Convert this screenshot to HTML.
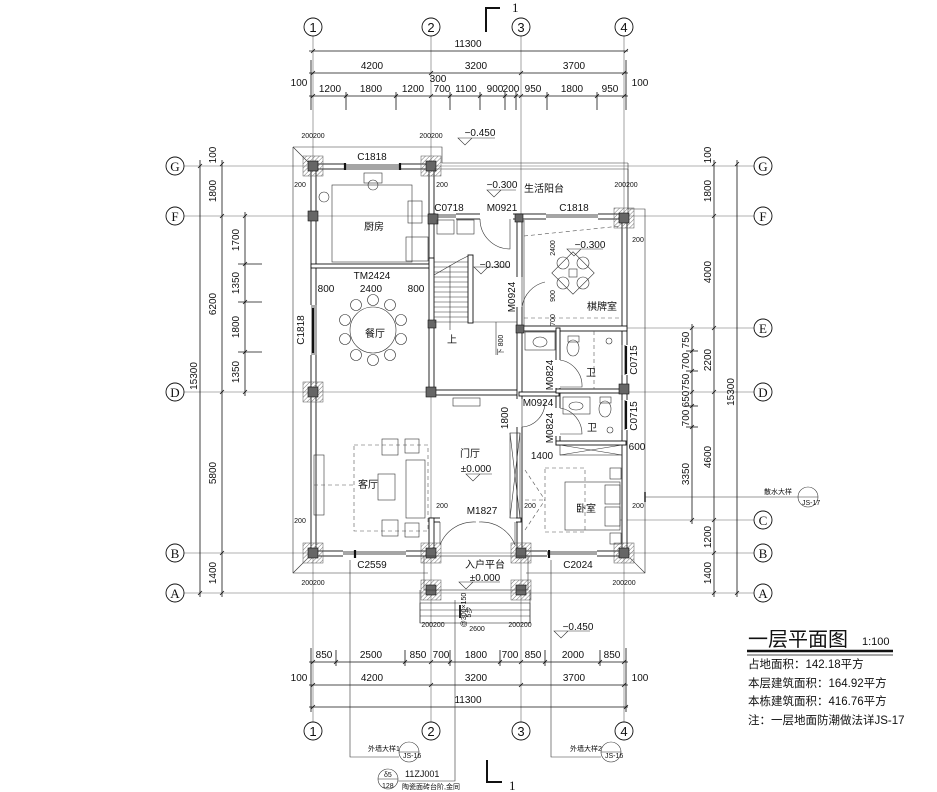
<!DOCTYPE html>
<html><head><meta charset="utf-8"><style>
html,body{margin:0;padding:0;background:#fff;}
svg{display:block;font-family:"Liberation Sans","Noto Sans CJK SC",sans-serif;}
.t{font-size:10px;fill:#111}
.s{font-size:7px;fill:#111}
.c{font-size:13px;fill:#111}
.w{fill:#fff;stroke:#111;stroke-width:.9}
.col{fill:#666;stroke:#111;stroke-width:.6}
.g{stroke:#666;stroke-width:.6;fill:none}
.d{stroke:#111;stroke-width:.8;fill:none}
.f{stroke:#333;stroke-width:.6;fill:none}
.dash{stroke:#555;stroke-width:.6;fill:none;stroke-dasharray:4 3}
</style></head><body>
<svg width="937" height="792" viewBox="0 0 937 792" xmlns="http://www.w3.org/2000/svg">
<defs>
<pattern id="h" width="3" height="3" patternUnits="userSpaceOnUse" patternTransform="rotate(45)"><line x1="0" y1="0" x2="0" y2="3" stroke="#777" stroke-width="1"/></pattern>
</defs>

<!-- grid lines -->
<g class="g">
<line x1="313" y1="36" x2="313" y2="722"/><line x1="431" y1="36" x2="431" y2="722"/>
<line x1="521" y1="36" x2="521" y2="722"/><line x1="624" y1="36" x2="624" y2="722"/>
<line x1="184" y1="166" x2="754" y2="166"/><line x1="184" y1="216" x2="754" y2="216"/>
<line x1="520" y1="328" x2="754" y2="328"/><line x1="184" y1="392" x2="754" y2="392"/>
<line x1="620" y1="520" x2="754" y2="520"/><line x1="184" y1="553" x2="754" y2="553"/>
<line x1="184" y1="593" x2="754" y2="593"/>
</g>

<!-- axis circles -->
<g fill="#fff" stroke="#111" stroke-width="0.9">
<circle cx="313" cy="27" r="9"/><circle cx="431" cy="27" r="9"/><circle cx="521" cy="27" r="9"/><circle cx="624" cy="27" r="9"/>
<circle cx="313" cy="731" r="9"/><circle cx="431" cy="731" r="9"/><circle cx="521" cy="731" r="9"/><circle cx="624" cy="731" r="9"/>
<circle cx="175" cy="166" r="9"/><circle cx="175" cy="216" r="9"/><circle cx="175" cy="392" r="9"/><circle cx="175" cy="553" r="9"/><circle cx="175" cy="593" r="9"/>
<circle cx="763" cy="166" r="9"/><circle cx="763" cy="216" r="9"/><circle cx="763" cy="328" r="9"/><circle cx="763" cy="392" r="9"/><circle cx="763" cy="520" r="9"/><circle cx="763" cy="553" r="9"/><circle cx="763" cy="593" r="9"/>
</g>
<g class="c" text-anchor="middle">
<text x="313" y="32">1</text><text x="431" y="32">2</text><text x="521" y="32">3</text><text x="624" y="32">4</text>
<text x="313" y="736">1</text><text x="431" y="736">2</text><text x="521" y="736">3</text><text x="624" y="736">4</text>
<text x="175" y="171" font-family="Liberation Serif">G</text><text x="175" y="221" font-family="Liberation Serif">F</text><text x="175" y="397" font-family="Liberation Serif">D</text><text x="175" y="558" font-family="Liberation Serif">B</text><text x="175" y="598" font-family="Liberation Serif">A</text>
<text x="763" y="171" font-family="Liberation Serif">G</text><text x="763" y="221" font-family="Liberation Serif">F</text><text x="763" y="333" font-family="Liberation Serif">E</text><text x="763" y="397" font-family="Liberation Serif">D</text><text x="763" y="525" font-family="Liberation Serif">C</text><text x="763" y="558" font-family="Liberation Serif">B</text><text x="763" y="598" font-family="Liberation Serif">A</text>
</g>

<!-- section marks -->
<g stroke="#111" stroke-width="2" fill="none">
<polyline points="486,32 486,8 500,8"/><polyline points="487,760 487,782 502,782"/>
</g>
<text x="512" y="12" class="c" font-family="Liberation Serif">1</text>
<text x="509" y="790" class="c" font-family="Liberation Serif">1</text>

<!-- top dims -->
<g class="d">
<line x1="309" y1="51" x2="628" y2="51"/><line x1="309" y1="73" x2="628" y2="73"/><line x1="309" y1="96" x2="628" y2="96"/>
<line x1="311" y1="60" x2="311" y2="110"/><line x1="626" y1="60" x2="626" y2="110"/>
<line x1="346" y1="92" x2="346" y2="110"/><line x1="396" y1="92" x2="396" y2="110"/><line x1="450" y1="92" x2="450" y2="110"/><line x1="480" y1="92" x2="480" y2="110"/><line x1="505" y1="92" x2="505" y2="110"/><line x1="516" y1="92" x2="516" y2="110"/><line x1="547" y1="92" x2="547" y2="110"/><line x1="597" y1="92" x2="597" y2="110"/>
</g>
<g class="d" stroke-width="1.4">
<path d="M311,53l4,-4M624,53l4,-4M311,75l4,-4M429,75l4,-4M519,75l4,-4M622,75l4,-4M311,98l4,-4M344,98l4,-4M394,98l4,-4M429,98l4,-4M448,98l4,-4M478,98l4,-4M503,98l4,-4M514,98l4,-4M519,98l4,-4M545,98l4,-4M595,98l4,-4M622,98l4,-4"/>
</g>
<g class="t" text-anchor="middle">
<text x="468" y="47">11300</text>
<text x="372" y="69">4200</text><text x="476" y="69">3200</text><text x="574" y="69">3700</text>
<text x="330" y="92">1200</text><text x="371" y="92">1800</text><text x="413" y="92">1200</text>
<text x="438" y="82">300</text>
<text x="442" y="92">700</text><text x="466" y="92">1100</text><text x="495" y="92">900</text><text x="511" y="92">200</text><text x="533" y="92">950</text><text x="572" y="92">1800</text><text x="610" y="92">950</text>
<text x="299" y="86">100</text><text x="640" y="86">100</text>
</g>

<!-- bottom dims -->
<g class="d">
<line x1="309" y1="662" x2="628" y2="662"/><line x1="309" y1="685" x2="628" y2="685"/><line x1="309" y1="707" x2="628" y2="707"/>
<line x1="311" y1="648" x2="311" y2="712"/><line x1="626" y1="648" x2="626" y2="712"/>
<line x1="336" y1="650" x2="336" y2="666"/><line x1="405" y1="650" x2="405" y2="666"/><line x1="450" y1="650" x2="450" y2="666"/><line x1="500" y1="650" x2="500" y2="666"/><line x1="545" y1="650" x2="545" y2="666"/><line x1="600" y1="650" x2="600" y2="666"/>
</g>
<g class="d" stroke-width="1.4">
<path d="M311,664l4,-4M334,664l4,-4M403,664l4,-4M429,664l4,-4M448,664l4,-4M498,664l4,-4M519,664l4,-4M543,664l4,-4M598,664l4,-4M622,664l4,-4M311,687l4,-4M429,687l4,-4M519,687l4,-4M622,687l4,-4M311,709l4,-4M624,709l4,-4"/>
</g>
<g class="t" text-anchor="middle">
<text x="324" y="658">850</text><text x="371" y="658">2500</text><text x="418" y="658">850</text><text x="441" y="658">700</text><text x="476" y="658">1800</text><text x="510" y="658">700</text><text x="533" y="658">850</text><text x="573" y="658">2000</text><text x="612" y="658">850</text>
<text x="372" y="681">4200</text><text x="476" y="681">3200</text><text x="574" y="681">3700</text>
<text x="468" y="703">11300</text>
<text x="299" y="681">100</text><text x="640" y="681">100</text>
</g>

<!-- left dims -->
<g class="d">
<line x1="200" y1="160" x2="200" y2="597"/><line x1="222" y1="160" x2="222" y2="597"/><line x1="245" y1="212" x2="245" y2="396"/>
<line x1="238" y1="264" x2="262" y2="264"/><line x1="238" y1="302" x2="262" y2="302"/><line x1="238" y1="352" x2="262" y2="352"/>
</g>
<g class="d" stroke-width="1.4">
<path d="M198,168l4,-4M198,595l4,-4M220,166l4,-4M220,218l4,-4M220,394l4,-4M220,555l4,-4M220,595l4,-4M243,218l4,-4M243,266l4,-4M243,304l4,-4M243,354l4,-4M243,394l4,-4"/>
</g>
<g class="t" text-anchor="middle">
<text transform="translate(216,155) rotate(-90)">100</text>
<text transform="translate(216,191) rotate(-90)">1800</text>
<text transform="translate(216,304) rotate(-90)">6200</text>
<text transform="translate(216,473) rotate(-90)">5800</text>
<text transform="translate(216,573) rotate(-90)">1400</text>
<text transform="translate(197,376) rotate(-90)">15300</text>
<text transform="translate(239,240) rotate(-90)">1700</text>
<text transform="translate(239,283) rotate(-90)">1350</text>
<text transform="translate(239,327) rotate(-90)">1800</text>
<text transform="translate(239,372) rotate(-90)">1350</text>
</g>

<!-- right dims -->
<g class="d">
<line x1="737" y1="160" x2="737" y2="597"/><line x1="714" y1="160" x2="714" y2="597"/><line x1="692" y1="324" x2="692" y2="524"/>
<line x1="686" y1="351" x2="698" y2="351"/><line x1="686" y1="371" x2="698" y2="371"/><line x1="686" y1="406" x2="698" y2="406"/><line x1="686" y1="427" x2="698" y2="427"/>
</g>
<g class="d" stroke-width="1.4">
<path d="M735,166l4,-4M735,595l4,-4M712,166l4,-4M712,218l4,-4M712,330l4,-4M712,394l4,-4M712,522l4,-4M712,555l4,-4M712,595l4,-4M690,330l4,-4M690,353l4,-4M690,373l4,-4M690,394l4,-4M690,408l4,-4M690,429l4,-4M690,522l4,-4"/>
</g>
<g class="t" text-anchor="middle">
<text transform="translate(711,155) rotate(-90)">100</text>
<text transform="translate(711,191) rotate(-90)">1800</text>
<text transform="translate(711,272) rotate(-90)">4000</text>
<text transform="translate(711,360) rotate(-90)">2200</text>
<text transform="translate(711,457) rotate(-90)">4600</text>
<text transform="translate(711,537) rotate(-90)">1200</text>
<text transform="translate(711,573) rotate(-90)">1400</text>
<text transform="translate(734,392) rotate(-90)">15300</text>
<text transform="translate(689,340) rotate(-90)">750</text>
<text transform="translate(689,361) rotate(-90)">700</text>
<text transform="translate(689,382) rotate(-90)">750</text>
<text transform="translate(689,399) rotate(-90)">650</text>
<text transform="translate(689,418) rotate(-90)">700</text>
<text transform="translate(689,474) rotate(-90)">3350</text>
</g>

<!-- plinth outline -->
<g class="f" stroke-width="0.9">
<polyline points="293,147 442,147 442,163"/>
<line x1="442" y1="163" x2="628" y2="163"/>
<line x1="628" y1="163" x2="628" y2="209"/>
<polyline points="628,209 645,209 645,573 526,573"/>
<polyline points="293,147 293,573 428,573"/>
<line x1="293" y1="147" x2="308" y2="162"/><line x1="293" y1="573" x2="308" y2="558"/><line x1="645" y1="573" x2="630" y2="558"/>
</g>

<!-- walls -->
<g class="w">
<rect x="311" y="164" width="5" height="392"/>
<rect x="311" y="164" width="123" height="5"/>
<rect x="429" y="164" width="5" height="104"/>
<rect x="622" y="214" width="5" height="342"/>
<rect x="311" y="551" width="122" height="5"/>
<rect x="519" y="551" width="108" height="5"/>
<rect x="429" y="214" width="198" height="5"/>
<rect x="311" y="264" width="122" height="4"/>
<rect x="429" y="258" width="5" height="137"/>
<rect x="429" y="390" width="92" height="5"/>
<rect x="517" y="214" width="5" height="342"/>
<rect x="519" y="326" width="108" height="5"/>
<rect x="556" y="328" width="4" height="117"/>
<rect x="519" y="392" width="40" height="4"/>
<rect x="556" y="389" width="70" height="4"/>
<rect x="556" y="441" width="70" height="4"/>
<rect x="429" y="518" width="92" height="4"/>
<rect x="429" y="518" width="5" height="38"/>
<rect x="468" y="255" width="5" height="68"/>
</g>
<!-- window/door openings (white gaps with thin lines) -->
<g fill="#fff" stroke="none">
<rect x="345" y="163" width="55" height="7"/>
<rect x="310" y="305" width="7" height="50"/>
<rect x="343" y="550" width="63" height="7"/>
<rect x="547" y="550" width="50" height="7"/>
<rect x="546" y="213" width="52" height="7"/>
<rect x="436" y="213" width="20" height="7"/>
<rect x="480" y="213" width="33" height="7"/>
<rect x="516" y="277" width="7" height="30"/>
<rect x="516" y="399" width="7" height="28"/>
<rect x="555" y="360" width="6" height="28"/>
<rect x="555" y="408" width="6" height="28"/>
<rect x="621" y="345" width="7" height="30"/>
<rect x="621" y="400" width="7" height="30"/>
<rect x="440" y="517" width="76" height="6"/>
</g>
<g stroke="#111" stroke-width="0.7" fill="none">
<path d="M345,165H400M345,167H400M345,169H400"/>
<path d="M312,305V355M314,305V355M316,305V355"/>
<path d="M343,552H406M343,554H406"/>
<path d="M547,552H597M547,554H597"/>
<path d="M546,215H598M546,217H598"/>
<path d="M436,215H456M436,217H456"/>
<path d="M622,345V375M625,345V375M622,400V430M625,400V430"/>
</g>
<g stroke="#111" stroke-width="2.2"><line x1="400" y1="163" x2="400" y2="170"/><line x1="345" y1="163" x2="345" y2="170"/><line x1="355" y1="550" x2="355" y2="558"/><line x1="549" y1="550" x2="549" y2="558"/><line x1="626" y1="346" x2="626" y2="374"/><line x1="626" y1="401" x2="626" y2="429"/><line x1="313" y1="308" x2="313" y2="353"/></g>
<!-- door swings -->
<g class="f" stroke-width="0.8">
<path d="M480,219 A30,30 0 0 0 510,249 L510,219"/>
<path d="M522,277 V307 A30,30 0 0 1 545,282"/>
<path d="M522,399 L522,427 A25,25 0 0 0 545,401"/>
<path d="M560,360 A26,26 0 0 1 582,387 L560,387"/>
<path d="M560,408 A26,26 0 0 1 582,434 L560,434"/>
<path d="M440,522 V545 A36,36 0 0 1 476,522"/>
<path d="M515,522 V545 A36,36 0 0 0 479,522"/>
</g>

<!-- columns -->
<g>
<rect x="303" y="156" width="20" height="20" fill="url(#h)" stroke="#555" stroke-width=".5"/>
<rect x="421" y="156" width="20" height="20" fill="url(#h)" stroke="#555" stroke-width=".5"/>
<rect x="614" y="208" width="20" height="20" fill="url(#h)" stroke="#555" stroke-width=".5"/>
<rect x="303" y="382" width="20" height="20" fill="url(#h)" stroke="#555" stroke-width=".5"/>
<rect x="303" y="543" width="20" height="20" fill="url(#h)" stroke="#555" stroke-width=".5"/>
<rect x="421" y="543" width="20" height="20" fill="url(#h)" stroke="#555" stroke-width=".5"/>
<rect x="511" y="543" width="20" height="20" fill="url(#h)" stroke="#555" stroke-width=".5"/>
<rect x="614" y="543" width="20" height="20" fill="url(#h)" stroke="#555" stroke-width=".5"/>
<rect x="421" y="580" width="20" height="20" fill="url(#h)" stroke="#555" stroke-width=".5"/>
<rect x="511" y="580" width="20" height="20" fill="url(#h)" stroke="#555" stroke-width=".5"/>
</g>
<g class="col">
<rect x="308" y="161" width="10" height="10"/><rect x="426" y="161" width="10" height="10"/>
<rect x="308" y="211" width="10" height="10"/><rect x="428" y="214" width="10" height="10"/><rect x="515" y="214" width="8" height="8"/><rect x="619" y="213" width="10" height="10"/>
<rect x="428" y="320" width="8" height="8"/><rect x="516" y="325" width="8" height="8"/><rect x="619" y="384" width="10" height="10"/>
<rect x="308" y="387" width="10" height="10"/><rect x="426" y="387" width="10" height="10"/>
<rect x="308" y="548" width="10" height="10"/><rect x="426" y="548" width="10" height="10"/><rect x="516" y="548" width="10" height="10"/><rect x="619" y="548" width="10" height="10"/>
<rect x="426" y="585" width="10" height="10"/><rect x="516" y="585" width="10" height="10"/>
<rect x="308" y="302" width="0" height="0"/>
</g>

<!-- entry platform & steps -->
<g class="f" stroke-width="0.8">
<rect x="424" y="556" width="104" height="34"/>
<rect x="420" y="603" width="110" height="20"/>
<line x1="420" y1="610" x2="530" y2="610"/><line x1="420" y1="616" x2="530" y2="616"/>
<line x1="420" y1="590" x2="420" y2="623"/><line x1="530" y1="590" x2="530" y2="623"/>
</g>
<line x1="460" y1="605" x2="460" y2="618" stroke="#111" stroke-width="1.8"/>

<!-- balcony top thin line and dashed -->
<line x1="434" y1="169" x2="628" y2="169" class="f"/>
<line x1="628" y1="169" x2="628" y2="214" class="f"/>

<!-- stair -->
<g class="f" stroke-width="0.6">
<path d="M434,262H468M434,267H468M434,272H468M434,277H468M434,282H468M434,287H468M434,292H468M434,297H468M434,302H468M434,307H468M434,312H468M434,317H468M434,322H468"/>
<polyline points="434,275 460,260 468,256"/>
<line x1="450" y1="330" x2="450" y2="265"/>
<line x1="473" y1="322" x2="517" y2="322"/>
<line x1="496" y1="322" x2="496" y2="355"/>
</g>

<!-- kitchen fixtures -->
<g class="f">
<rect x="332" y="185" width="80" height="77"/>
<rect x="408" y="201" width="14" height="22"/><rect x="406" y="237" width="22" height="24"/>
<circle cx="373" cy="185" r="5"/><rect x="364" y="173" width="18" height="10"/>
<circle cx="324" cy="197" r="5"/>
<rect x="437" y="220" width="17" height="14"/><rect x="457" y="220" width="17" height="14"/>
</g>
<!-- dining -->
<g class="f" stroke-width="0.8">
<circle cx="373" cy="330" r="23"/>
<g fill="#fff">
<circle cx="373" cy="300" r="5.5"/><circle cx="390" cy="305" r="5.5"/><circle cx="401" cy="320" r="5.5"/><circle cx="401" cy="339" r="5.5"/><circle cx="390" cy="355" r="5.5"/><circle cx="373" cy="360" r="5.5"/><circle cx="356" cy="355" r="5.5"/><circle cx="345" cy="339" r="5.5"/><circle cx="345" cy="320" r="5.5"/><circle cx="356" cy="305" r="5.5"/>
</g>
</g>
<!-- living -->
<g class="f" stroke-width="0.7">
<rect x="354" y="445" width="74" height="86" class="dash"/>
<rect x="382" y="439" width="16" height="16"/><rect x="382" y="520" width="16" height="16"/>
<rect x="405" y="439" width="14" height="14"/><rect x="405" y="523" width="14" height="14"/>
<rect x="406" y="460" width="19" height="58"/>
<rect x="378" y="474" width="17" height="26"/>
<rect x="314" y="455" width="10" height="60"/>
<line x1="314" y1="485" x2="354" y2="485" class="dash"/>
<rect x="453" y="398" width="27" height="8"/>
<rect x="510" y="433" width="10" height="85"/>
<line x1="510" y1="433" x2="520" y2="518"/><line x1="520" y1="433" x2="510" y2="518"/>
</g>
<!-- bath fixtures -->
<g class="f">
<rect x="525" y="332" width="30" height="18"/><ellipse cx="540" cy="342" rx="7" ry="5"/>
<rect x="568" y="336" width="11" height="6"/><ellipse cx="573" cy="348" rx="6" ry="8"/>
<rect x="563" y="397" width="27" height="17"/><ellipse cx="576" cy="406" rx="7" ry="4"/>
<rect x="600" y="397" width="11" height="6"/><ellipse cx="605" cy="409" rx="6" ry="8"/>
<circle cx="609" cy="341" r="3"/><circle cx="610" cy="430" r="3"/>
<line x1="594" y1="331" x2="594" y2="389" class="dash"/>
</g>
<!-- chess room -->
<g class="f">
<line x1="524" y1="236" x2="621" y2="226" class="dash"/>
<rect x="558" y="258" width="30" height="30" transform="rotate(45 573 273)"/>
<circle cx="563" cy="263" r="6"/><circle cx="583" cy="263" r="6"/><circle cx="563" cy="283" r="6"/><circle cx="583" cy="283" r="6"/>
<rect x="569" y="269" width="8" height="8"/>
<line x1="524" y1="318" x2="620" y2="318" class="dash"/>
<line x1="524" y1="220" x2="524" y2="326"/>
</g>
<!-- bedroom -->
<g class="f" stroke-width="0.7">
<rect x="560" y="445" width="62" height="10"/>
<line x1="560" y1="445" x2="622" y2="455"/><line x1="622" y1="445" x2="560" y2="455"/>
<rect x="545" y="468" width="40" height="64" class="dash"/>
<rect x="565" y="482" width="55" height="48"/>
<rect x="605" y="485" width="15" height="19"/><rect x="605" y="507" width="15" height="19"/>
<rect x="610" y="468" width="11" height="11"/><rect x="610" y="533" width="11" height="11"/>
<line x1="525" y1="500" x2="545" y2="500" class="dash"/>
<line x1="525" y1="470" x2="545" y2="500" class="dash"/>
<line x1="525" y1="530" x2="545" y2="500" class="dash"/>
</g>

<!-- elevation marks -->
<g class="f" stroke-width="0.8">
<path d="M458,138l7,7l7,-7zM465,138H495"/>
<path d="M487,190l7,7l7,-7zM494,190H516"/>
<path d="M474,267l7,7l7,-7zM481,267H510"/>
<path d="M567,249l7,7l7,-7zM574,249H603"/>
<path d="M466,474l7,7l7,-7zM473,474H492"/>
<path d="M459,582l7,7l7,-7zM466,582H500"/>
<path d="M554,631l7,7l7,-7zM561,631H590"/>
</g>

<!-- room labels -->
<g class="t" text-anchor="middle">
<text x="372" y="160">C1818</text>
<text x="374" y="230">厨房</text>
<text x="372" y="279">TM2424</text>
<text x="326" y="292">800</text><text x="371" y="292">2400</text><text x="416" y="292">800</text>
<text x="375" y="337">餐厅</text>
<text transform="translate(304,330) rotate(-90)">C1818</text>
<text x="452" y="343">上</text>
<text x="449" y="211">C0718</text><text x="502" y="211">M0921</text><text x="574" y="211">C1818</text>
<text x="544" y="192">生活阳台</text>
<text x="480" y="136">−0.450</text>
<text x="502" y="188">−0.300</text>
<text x="495" y="268">−0.300</text>
<text x="590" y="248">−0.300</text>
<text x="602" y="310">棋牌室</text>
<text transform="translate(515,297) rotate(-90)">M0924</text>
<text transform="translate(555,248) rotate(-90)" class="s">2400</text>
<text transform="translate(555,296) rotate(-90)" class="s">900</text>
<text transform="translate(555,320) rotate(-90)" class="s">700</text>
<text transform="translate(503,345) rotate(-90)" class="s">下 800</text>
<text transform="translate(553,375) rotate(-90)">M0824</text>
<text x="591" y="376">卫</text>
<text transform="translate(637,360) rotate(-90)">C0715</text>
<text x="538" y="406">M0924</text>
<text transform="translate(553,428) rotate(-90)">M0824</text>
<text x="592" y="431">卫</text>
<text transform="translate(637,416) rotate(-90)">C0715</text>
<text transform="translate(508,418) rotate(-90)">1800</text>
<text x="470" y="457">门厅</text>
<text x="476" y="472">±0.000</text>
<text x="368" y="488">客厅</text>
<text x="542" y="459">1400</text>
<text x="637" y="450">600</text>
<text x="482" y="514">M1827</text>
<text x="586" y="512">卧室</text>
<text x="372" y="568">C2559</text>
<text x="578" y="568">C2024</text>
<text x="485" y="568">入户平台</text>
<text x="485" y="581">±0.000</text>
<text x="578" y="630">−0.450</text>
</g>
<g class="s" text-anchor="middle">
<text x="477" y="631">2600</text>
<text transform="translate(471,612) rotate(-90)">5步</text>
<text transform="translate(466,610) rotate(-90)">@300×150</text>
<text x="313" y="138">200200</text><text x="431" y="138">200200</text><text x="626" y="187">200200</text>
<text x="313" y="585">200200</text><text x="624" y="585">200200</text>
<text x="300" y="187">200</text><text x="442" y="187">200</text><text x="638" y="242">200</text>
<text x="300" y="523">200</text><text x="442" y="508">200</text><text x="530" y="508">200</text><text x="638" y="508">200</text>
<text x="433" y="627">200200</text><text x="520" y="627">200200</text>
</g>

<!-- leaders -->
<g class="f" stroke-width="0.8">
<polyline points="350,560 350,757 399,757"/>
<polyline points="551,560 551,757 601,757"/>
<polyline points="455,600 455,781 398,781"/>
<line x1="645" y1="497" x2="798" y2="497"/>
<line x1="645" y1="492" x2="645" y2="502" stroke-width="1.6"/>
<circle cx="409" cy="752" r="10" fill="#fff"/><line x1="399" y1="752" x2="419" y2="752"/>
<circle cx="611" cy="752" r="10" fill="#fff"/><line x1="601" y1="752" x2="621" y2="752"/>
<circle cx="808" cy="497" r="10" fill="#fff"/><line x1="798" y1="497" x2="818" y2="497"/>
<circle cx="388" cy="779" r="10" fill="#fff"/><line x1="378" y1="779" x2="398" y2="779"/>
</g>
<g class="s">
<text x="368" y="751">外墙大样1</text>
<text x="570" y="751">外墙大样2</text>
<text x="764" y="494">散水大样</text>
<text x="384" y="777">δ5</text><text x="382" y="788">128</text>
<text x="403" y="758">JS-16</text><text x="605" y="758">JS-16</text><text x="802" y="505">JS-17</text>
<text x="405" y="777" font-size="9">11ZJ001</text>
<text x="402" y="789">陶瓷面砖台阶,金同</text>
</g>

<!-- title -->
<text x="748" y="646" font-size="20" fill="#111">一层平面图</text>
<text x="862" y="645" font-size="11" fill="#111">1:100</text>
<line x1="747" y1="651" x2="893" y2="651" stroke="#111" stroke-width="2.4"/>
<line x1="747" y1="655" x2="893" y2="655" stroke="#111" stroke-width="0.8"/>
<g font-size="11.5" fill="#111">
<text x="748" y="668">占地面积：142.18平方</text>
<text x="748" y="687">本层建筑面积：164.92平方</text>
<text x="748" y="705">本栋建筑面积：416.76平方</text>
<text x="748" y="724">注：一层地面防潮做法详JS-17</text>
</g>
</svg>
</body></html>
